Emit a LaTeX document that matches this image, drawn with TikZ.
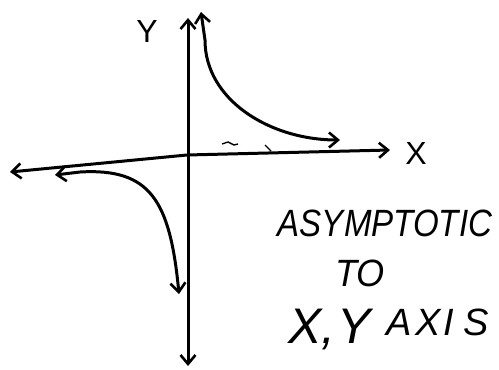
\documentclass[tikz,border=0pt]{standalone}
\usepackage{fontspec}
\setmainfont{Liberation Sans}
\usetikzlibrary{arrows.meta}
\begin{document}
\begin{tikzpicture}[x=1pt,y=-1pt,
  pen/.style={line width=3pt,line cap=round,line join=round},
  tip/.tip={Straight Barb[length=9pt,width=15pt,line width=2.6pt]},
  dbarb/.style={tip-tip},
  hand/.style={font=\itshape\fontsize{38}{40}\selectfont,inner sep=0pt}]
\useasboundingbox (0,0) rectangle (499,370);
% axes
\coordinate (xl) at (10,172);
\coordinate (xr) at (390,150);
\coordinate (yt) at (188,18);
\coordinate (yb) at (188,366);
\coordinate (o) at (187,155);
\draw[pen,dbarb] (xl) -- (o) -- (xr);
\draw[pen,dbarb] (yt) -- (yb);
% labels
\node[hand,font=\fontsize{32}{34}\selectfont] (ly) at (147,31) {Y};
\node[hand,font=\fontsize{32}{34}\selectfont] (lx) at (416,153) {X};
% upper branch
\coordinate (u0) at (201,12);
\coordinate (u1) at (340,140);
\draw[pen,dbarb] (u0) -- (205,40) .. controls (205,100) and (270,140) .. (u1);
% lower branch
\coordinate (l0) at (55,175);
\coordinate (l1) at (179,294);
\draw[pen,dbarb] (l0) -- (80,172) .. controls (150,168) and (170,200) .. (l1);
% stray marks
\draw[line width=1.4pt] (222,144) -- (228,142) -- (234,145) -- (238,144);
\draw[line width=1.4pt] (265,145) -- (271,151);
% text
\node[hand,xscale=0.87] (t1) at (385,223) {ASYMPTOTIC};
\node[hand,xscale=0.95] (t2) at (360,273) {TO};
\node[hand,anchor=base west] (t3) at (288,343)
  {{\fontsize{50}{52}\selectfont X,\kern2pt Y}\hspace{16pt}\raisebox{8pt}{A\kern3pt X\kern3pt I\kern9pt S}};
\end{tikzpicture}
\end{document}
